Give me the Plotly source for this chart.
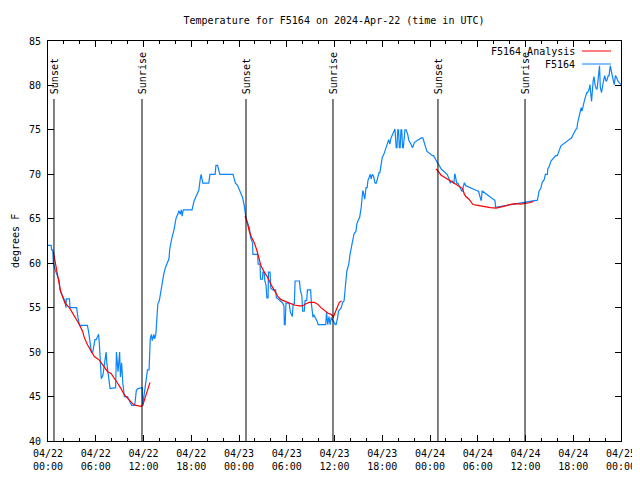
import pandas as pd
import plotly.graph_objects as go

BASE = pd.Timestamp("2024-04-22 00:00")

# Observations F5164: hours since 04/22 00:00 UTC, temperature (F)
obs_hours = [
    0.0, 0.4, 0.45, 0.6, 0.67, 0.8, 1.0, 1.3, 1.42, 1.5, 1.7, 1.9, 2.14, 2.26, 2.3, 2.7, 2.76, 3.6,
    3.75, 3.95, 4.15, 4.95, 5.1, 5.45, 5.62, 5.7, 5.9, 6.05, 6.35, 6.45, 6.55, 6.7, 6.9, 7.1, 7.3,
    7.4, 7.6, 7.8, 8.5, 8.6, 8.8, 9.0, 9.1, 9.25, 9.4, 9.6, 10.0, 10.5, 10.9, 11.1, 11.3, 11.85,
    11.9, 12.05, 12.2, 12.35, 12.5, 12.7, 12.75, 12.85, 13.0, 13.1, 13.3, 13.4, 13.55, 13.65, 13.8,
    13.99, 14.1, 14.25, 14.4, 14.55, 14.75, 14.9, 15.2, 15.3, 15.45, 15.6, 15.8, 15.95, 16.1, 16.3,
    16.45, 16.6, 16.75, 16.85, 17.0, 18.1, 18.35, 18.6, 18.8, 18.95, 19.15, 19.25, 19.35, 19.45,
    20.2, 20.35, 21.0, 21.1, 21.3, 21.4, 21.6, 23.25, 23.4, 23.55, 23.8, 24.0, 24.2, 24.45, 24.65,
    24.8, 24.9, 25.1, 25.3, 25.45, 25.7, 25.75, 26.35, 26.4, 26.65, 26.7, 26.95, 27.0, 27.15, 27.25,
    27.4, 27.5, 27.65, 27.7, 27.9, 28.0, 28.25, 28.6, 28.7, 28.9, 29.5, 29.65, 29.7, 29.8, 29.9,
    30.3, 30.45, 30.7, 30.8, 30.95, 31.05, 31.6, 31.7, 31.9, 32.0, 32.2, 32.3, 32.5, 32.6, 33.0,
    33.1, 33.3, 33.4, 33.8, 33.95, 34.9, 35.0, 35.15, 35.3, 35.45, 35.6, 36.1, 36.2, 36.4, 36.5,
    36.85, 37.02, 37.2, 37.25, 37.45, 37.55, 37.8, 37.95, 38.1, 38.3, 38.45, 38.7, 38.8, 39.05,
    39.15, 39.35, 39.45, 39.55, 39.6, 39.75, 39.8, 39.96, 40.1, 40.2, 40.4, 40.5, 40.6, 40.75, 40.9,
    41.1, 41.25, 41.6, 41.7, 41.85, 42.0, 42.2, 42.35, 42.5, 42.7, 42.8, 42.95, 43.1, 43.5, 43.6,
    43.75, 43.85, 43.95, 44.05, 44.15, 44.25, 44.35, 44.45, 44.55, 44.65, 44.85, 45.0, 45.2, 45.35,
    45.6, 45.8, 46.05, 46.9, 47.1, 47.3, 47.5, 47.6, 48.3, 48.45, 49.0, 49.1, 49.4, 50.1, 50.15,
    50.35, 50.5, 50.55, 50.75, 50.8, 50.95, 51.0, 51.1, 51.15, 51.35, 51.5, 52.0, 52.05, 52.3,
    52.35, 52.5, 52.55, 54.05, 54.1, 54.4, 54.45, 54.55, 54.6, 56.1, 56.15, 56.25, 61.4, 61.5,
    61.7, 61.94, 62.1, 62.35, 62.5, 62.75, 62.8, 62.99, 63.2, 63.8, 64.0, 64.24, 64.45, 65.7, 65.75,
    66.35, 66.45, 66.55, 66.76, 66.95, 67.0, 67.1, 67.18, 67.35, 67.5, 67.7, 67.8, 68.0, 68.1, 68.2,
    68.3, 68.5, 68.6, 68.75, 68.9, 69.0, 69.2, 69.3, 69.4, 69.55, 69.8, 69.95, 70.1, 70.2, 70.4,
    70.5, 70.65, 70.75, 70.95, 71.15, 71.3, 71.45, 71.6, 71.8, 72.0,
]
obs_temps = [
    62, 62, 61.5, 61.5, 60, 59.5, 59, 58.3, 58, 57, 56.5, 56.2, 55.7, 55, 56, 56, 55, 55,
    54, 53, 53, 53, 52.3, 50, 50, 50.5, 51.4, 51.4, 52, 51, 49, 47, 47.4, 49, 50,
    48.7, 46.9, 45.9, 46, 50, 47.8, 50, 47.2, 48.8, 46.5, 45, 45, 44, 44, 45.7, 45.9, 46,
    44, 45, 46, 47.4, 48, 48, 50.6, 51.5, 52, 51.3, 52, 51.5, 52, 54, 55.4,
    55.8, 56.5, 57.2, 58.2, 58.8, 59.5, 59.9, 60.5, 61.6, 62.5, 63, 63.6, 64.6, 65.1, 65.5,
    65.9, 65.5, 66, 65.3, 66, 66, 67, 67.5, 68, 68.2, 69.6, 70, 69.5, 69,
    69, 70, 70, 71, 71, 70.6, 70, 70, 69.4, 69, 68.8, 68.4, 68, 67.4, 66.5,
    65.5, 65, 64.5, 64, 62.9, 62.3, 61, 61, 59.9, 59.9, 58.2, 58.2, 59, 59, 58,
    57.5, 56.1, 56.1, 59, 59, 57.2, 57, 57, 56.1, 56, 55.5, 55.2, 53.1, 53.1, 55.5,
    55.5, 54.5, 54, 55.4, 55.4, 58, 58, 57, 56.3, 54.6, 54.6, 55.8, 55.8, 57, 57,
    55.4, 53.9, 54.2, 53.5, 53.1, 53.1, 54.5, 53.1, 54, 53.1, 53.9, 53.1, 53.1, 53.9, 54.6, 55,
    55.6, 55.75, 56.5, 58.2, 59.1, 59.9, 61, 61.75, 62.5, 63.3, 63.6, 64.4, 65, 65.1,
    66.25, 67.75, 68.1, 68.1, 67.2, 67.2, 68.5, 68.5, 69.3, 69.8, 70, 69.5, 70, 69.8, 69,
    69, 70.2, 70.2, 71.1, 71.9, 72.25, 72.6, 73, 73.6, 73.9, 73.4, 74.1, 75.1, 75.1, 73,
    73, 75, 75, 73, 73, 75, 75, 73, 73, 75, 75, 74.5, 73.8, 73.4,
    73, 73.6, 74.1, 74.1, 73.4, 73, 72.6, 72.1, 72.1, 71.2, 71.1, 70.6, 70, 70, 69.6,
    69.2, 69, 69.25, 69.25, 69, 69, 70, 70, 69, 69, 68.1, 68.1, 69, 69,
    68.7, 68.7, 68.1, 68.1, 67.1, 67.1, 68.1, 68.1, 67.1, 67.1, 66.3, 67.1, 67.1, 68.1,
    68.5, 69.1, 69.4, 70, 70, 70.6, 70.9, 71.5, 72.1, 72.1, 72.6, 73.2, 74.05, 74.05, 75.1,
    75.1, 75.8, 76.6, 77.1, 77.5, 77.1, 77.5, 78.1, 78.6, 79.2, 79.2, 79.6, 80.1, 79.4, 78.2,
    80.5, 81, 80, 79.6, 79.6, 81.2, 82.2, 79.8, 79.2, 80.5, 81.1, 80.5, 80.5, 81.1, 81.1,
    82.2, 81.6, 80.9, 80.1, 81.1, 80.9, 80.5, 80.3, 80.1, 80.1,
]

# Analysis F5164 (night-time only; None breaks the line)
ana_hours = [
    0.67, 0.85, 1.0, 1.2, 1.42, 1.63, 1.84, 2.14, 2.68, 3.1, 3.52, 3.94, 4.36, 4.57, 4.98, 5.4,
    5.82, 6.45, 6.87, 7.5, 7.92, 8.34, 8.75, 9.17, 9.59, 10.01, 10.64, 11.06, 11.69, 11.9, 12.1,
    12.31, 12.52, 12.73, 12.82, None,
    24.75, 24.87, 25.08, 25.29, 25.59, 25.92, 26.26, 26.55, 26.76, 27.18, 27.6, 28.02, 28.43,
    28.85, 29.27, 29.69, 30.32, 30.95, 31.58, 32.0, 32.41, 32.83, 33.46, 33.88, 34.3, 34.72,
    35.14, 35.56, 35.85, 36.06, 36.31, 36.6, 36.89, None,
    48.75, 49.0, 49.4, 49.8, 50.2, 50.6, 50.85, 51.2, 51.5, 52.1, 52.3, 52.5, 52.9, 53.15, 53.4,
    54.0, 54.8, 55.6, 56.3, 57.0, 57.5, 58.0, 58.7, 59.4, 60.0, 60.5, 61.0,
]
ana_temps = [
    61.3, 60.3, 59.5, 58.75, 57.6, 56.7, 56.1, 55.5, 55, 54.4, 53.7, 53.1, 52.3, 51.6, 50.8, 50.1,
    49.5, 49.1, 48.6, 47.8, 47.6, 47.1, 46.5, 45.9, 45.2, 44.8, 44.2, 44, 43.9, 44, 44.6,
    45.2, 45.9, 46.3, 46.6, None,
    65.3, 65.1, 64.4, 63.6, 62.9, 62.3, 61.4, 60.25, 59.7, 59, 58.4, 57.6, 56.9,
    56.3, 55.9, 55.75, 55.45, 55.3, 55.2, 55.2, 55.45, 55.6, 55.6, 55.4, 55, 54.7,
    54.4, 54.25, 53.95, 54.4, 55, 55.6, 55.75, None,
    70.6, 70.4, 69.9, 69.7, 69.5, 69.3, 69.1, 68.9, 68.7, 68.4, 67.8, 67.5, 67.2, 66.9, 66.6,
    66.5, 66.35, 66.25, 66.2, 66.3, 66.45, 66.6, 66.7, 66.65, 66.7, 66.8, 66.95,
]

sunset_hours = [0.75, 24.88, 49.0]
sunrise_hours = [11.81, 35.81, 59.94]

FONT = "DejaVu Sans Mono"
BLUE = "#0a84ff"
RED = "#ff0000"

# plot area geometry (figure px); page body adds a small offset
ML, MT, PW, PH = 40, 33, 573, 400


def to_time(h):
    return None if h is None else BASE + pd.Timedelta(hours=h)


obs_t = [to_time(h) for h in obs_hours]
ana_t = [to_time(h) for h in ana_hours]

fig = go.Figure()
fig.add_trace(go.Scatter(x=obs_t, y=obs_temps, mode="lines", name="F5164",
                         line=dict(color=BLUE, width=1.2), showlegend=False))
fig.add_trace(go.Scatter(x=ana_t, y=ana_temps, mode="lines", name="F5164 Analysis",
                         line=dict(color=RED, width=1.2), connectgaps=False, showlegend=False))

shapes = []
annotations = []
for label, hrs in (("Sunset", sunset_hours), ("Sunrise", sunrise_hours)):
    for h in hrs:
        t = to_time(h)
        shapes.append(dict(type="line", xref="x", yref="paper", x0=t, x1=t, y0=0, y1=0.855,
                           line=dict(color="black", width=1)))
        annotations.append(dict(text=label, xref="x", yref="paper", x=t, y=0.862,
                                textangle=-90, showarrow=False, xanchor="center", yanchor="bottom",
                                font=dict(family=FONT, size=10, color="black")))

# manual legend (text right-aligned, sample line on the right)
for i, (name, col) in enumerate((("F5164 Analysis", RED), ("F5164", BLUE))):
    yp = (400 - 10 - 13 * i) / 400
    annotations.append(dict(text=name, xref="paper", yref="paper", x=529 / PW, y=yp,
                            xanchor="right", yanchor="middle", showarrow=False,
                            font=dict(family=FONT, size=10, color="black")))
    shapes.append(dict(type="line", xref="paper", yref="paper", x0=534 / PW,
                       x1=563 / PW, y0=yp, y1=yp, line=dict(color=col, width=1)))

annotations.append(dict(text="degrees F", xref="paper", yref="paper", x=-33 / PW, y=0.5,
                        textangle=-90, showarrow=False, xanchor="center", yanchor="middle",
                        font=dict(family=FONT, size=10, color="black")))

fig.update_layout(
    width=640, height=480,
    margin=dict(l=ML, r=640 - ML - PW, t=MT, b=480 - MT - PH, autoexpand=False),
    paper_bgcolor="white", plot_bgcolor="white",
    title=dict(text="Temperature for F5164 on 2024-Apr-22 (time in UTC)", x=326 / 640,
               xanchor="center", y=1 - 12 / 480, yanchor="middle",
               font=dict(family=FONT, size=10, color="black")),
    font=dict(family=FONT, size=10, color="black"),
    shapes=shapes, annotations=annotations,
    showlegend=False,
)
fig.update_xaxes(
    type="date", range=[BASE, BASE + pd.Timedelta(hours=72)],
    dtick=6 * 3600 * 1000, tick0=BASE, tickformat="%m/%d<br>%H:%M",
    ticks="inside", ticklen=6, tickcolor="black", mirror="allticks",
    showline=True, linecolor="black", linewidth=1, showgrid=False, zeroline=False,
    tickfont=dict(family=FONT, size=10, color="black"), ticklabelstandoff=3,
    minor=dict(dtick=2 * 3600 * 1000, tick0=BASE, ticks="inside", ticklen=3, tickcolor="black",
               showgrid=False),
)
fig.update_yaxes(
    range=[40, 85], dtick=5, tick0=40,
    ticks="inside", ticklen=6, tickcolor="black", mirror="allticks",
    showline=True, linecolor="black", linewidth=1, showgrid=False, zeroline=False,
    tickfont=dict(family=FONT, size=10, color="black"), ticklabelstandoff=4,
)

fig.write_html("out.html")
